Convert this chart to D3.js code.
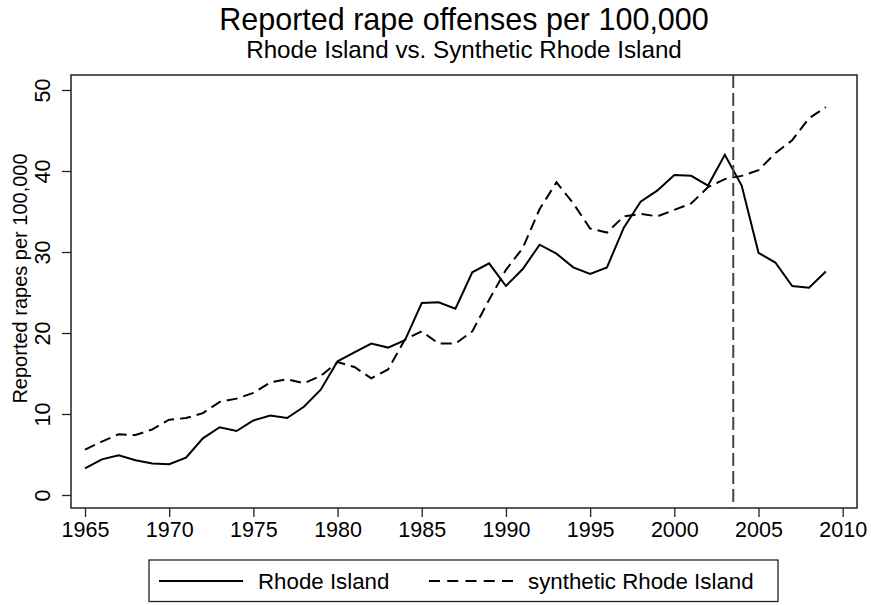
<!DOCTYPE html>
<html><head><meta charset="utf-8">
<script src="https://cdn.jsdelivr.net/npm/d3@7"></script>
<style>body{margin:0;background:#fff}svg{display:block}text{font-family:"Liberation Sans",Arial,Helvetica,sans-serif;fill:#000}</style>
</head><body>
<script>
const years = d3.range(1965, 2010);
const rhodeIsland = [3.3,4.4,4.9,4.3,3.9,3.8,4.6,7.0,8.36,7.9,
  9.2,9.8,9.5,10.9,13.0,16.5,17.6,18.7,18.2,19.1,
  23.7,23.8,23.0,27.5,28.6,25.8,27.9,30.9,29.8,28.1,
  27.3,28.1,33.0,36.2,37.6,39.5,39.4,38.2,42.0,38.2,
  29.9,28.7,25.8,25.6,27.6];
const synthetic = [5.6,6.6,7.5,7.4,8.1,9.3,9.5,10.1,11.5,11.9,
  12.6,13.9,14.3,13.8,14.7,16.4,15.8,14.4,15.5,19.2,
  20.2,18.7,18.7,20.2,24.1,27.8,30.5,35.3,38.6,36.0,
  32.9,32.4,34.4,34.7,34.4,35.2,36.0,38.0,39.0,39.4,
  40.1,42.2,43.8,46.5,47.9];
const xTicks = [1965,1970,1975,1980,1985,1990,1995,2000,2005,2010];
const yTicks = [0,10,20,30,40,50];
const treatmentYear = 2003.5;
const seriesNames = ["Rhode Island", "synthetic Rhode Island"];
const titleText = "Reported rape offenses per 100,000";
const subtitleText = "Rhode Island vs. Synthetic Rhode Island";
const yLabel = "Reported rapes per 100,000";

const W = 871, H = 605;
const frame = {l: 71, r: 857, t: 75, b: 508};
const svg = d3.select("body").append("svg").attr("width", W).attr("height", H);

const x = d3.scaleLinear().domain([1965, 2010]).range([85, 842.7]);
const y = d3.scaleLinear().domain([0, 50]).range([495, 90]);

// titles
const cx = (frame.l + frame.r) / 2;
svg.append("text").attr("x", cx).attr("y", 29.5).attr("text-anchor", "middle")
  .attr("font-size", 30.5).text(titleText);
svg.append("text").attr("x", cx).attr("y", 58).attr("text-anchor", "middle")
  .attr("font-size", 24.2).text(subtitleText);

// frame
svg.append("rect").attr("x", frame.l).attr("y", frame.t)
  .attr("width", frame.r - frame.l).attr("height", frame.b - frame.t)
  .attr("fill", "none").attr("stroke", "#222").attr("stroke-width", 1.5);

// x axis
const xAxis = d3.axisBottom(x).tickValues(xTicks).tickFormat(d3.format("d")).tickSize(9).tickPadding(5);
const gx = svg.append("g").attr("transform", `translate(0,${frame.b})`).call(xAxis);
gx.select(".domain").remove();
gx.selectAll(".tick line").attr("stroke", "#222").attr("stroke-width", 1.3);
gx.selectAll(".tick text").attr("font-size", 21.5).attr("font-family", '"Liberation Sans",Arial,sans-serif').attr("fill", "#000");

// y axis
const yAxis = d3.axisLeft(y).tickValues(yTicks).tickSize(9).tickPadding(5);
const gy = svg.append("g").attr("transform", `translate(${frame.l},0)`).call(yAxis);
gy.select(".domain").remove();
gy.selectAll(".tick line").attr("stroke", "#222").attr("stroke-width", 1.3);
gy.selectAll(".tick text")
  .attr("font-size", 21.5).attr("font-family", '"Liberation Sans",Arial,sans-serif').attr("fill", "#000")
  .attr("x", null).attr("dy", null)
  .attr("text-anchor", "middle")
  .attr("transform", "translate(-21,0) rotate(-90)");

svg.append("text").attr("transform", `translate(27,${(frame.t + frame.b) / 2 - 13}) rotate(-90)`)
  .attr("text-anchor", "middle").attr("font-size", 20).text(yLabel);

// lines
const line = d3.line().x((d, i) => x(years[i])).y(d => y(d));
svg.append("path").datum(synthetic).attr("d", line)
  .attr("fill", "none").attr("stroke", "#000").attr("stroke-width", 2)
  .attr("stroke-dasharray", "11,6");
svg.append("path").datum(rhodeIsland).attr("d", line)
  .attr("fill", "none").attr("stroke", "#000").attr("stroke-width", 2);

// treatment line
svg.append("line").attr("x1", x(treatmentYear)).attr("x2", x(treatmentYear))
  .attr("y1", frame.t).attr("y2", frame.b)
  .attr("stroke", "#444").attr("stroke-width", 2).attr("stroke-dasharray", "13,5");

// legend
const lg = svg.append("g");
lg.append("rect").attr("x", 149).attr("y", 560).attr("width", 629).attr("height", 41.5)
  .attr("fill", "none").attr("stroke", "#222").attr("stroke-width", 1.3);
lg.append("line").attr("x1", 159).attr("x2", 243).attr("y1", 581).attr("y2", 581)
  .attr("stroke", "#000").attr("stroke-width", 2);
lg.append("text").attr("x", 258).attr("y", 589).attr("font-size", 22.3).text(seriesNames[0]);
lg.append("line").attr("x1", 429).attr("x2", 513).attr("y1", 581).attr("y2", 581)
  .attr("stroke", "#000").attr("stroke-width", 2).attr("stroke-dasharray", "11,7.25");
lg.append("text").attr("x", 528).attr("y", 589).attr("font-size", 22.3).text(seriesNames[1]);
</script>
</body></html>
